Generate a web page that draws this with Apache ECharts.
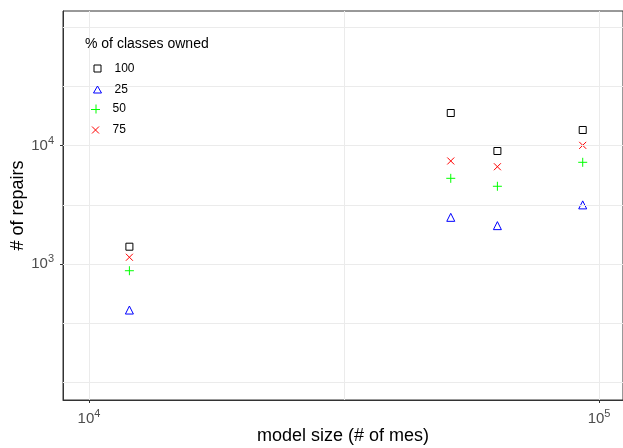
<!DOCTYPE html>
<html>
<head>
<meta charset="utf-8">
<script src="https://cdn.jsdelivr.net/npm/echarts@6/dist/echarts.min.js"></script>
<style>html,body{margin:0;padding:0;background:#fff}#c{width:623px;height:448px}</style>
</head>
<body>
<div id="c"></div>
<script>
const categories = ['100', '25', '50', '75'];
const modelSize = [12000, 51200, 63200, 92900];
const repairs100 = [1400, 18900, 9020, 13580];
const repairs25 = [408, 2480, 2110, 3160];
const repairs50 = [877, 5300, 4540, 7240];
const repairs75 = [1140, 7430, 6640, 10070];
const xTickExps = [4, 5];
const yTickExps = [3, 4];
const xGridExps = [4, 4.5, 5];
const yGridExps = [2, 2.5, 3, 3.5, 4, 4.5, 5];

const seriesValues = [repairs100, repairs25, repairs50, repairs75];
const colors = ['#000000', '#0000ff', '#00ff00', '#ff0000'];
const fills = ['none', 'none', '#00ff00', '#ff0000'];
const symbols = ['rect', 'triangle', 'path://M0,5L10,5M5,0L5,10', 'path://M0,0L10,10M10,0L0,10'];
const sizes = [7, 8, 9, 7];
const legendIcons = [
  'path://M0,0M10,10M1.5,1.5L8.5,1.5L8.5,8.5L1.5,8.5Z',
  'path://M0,0M10,10M1,8.5L5,1.5L9,8.5Z',
  'path://M0,0M10,10M0.5,5.5L9.5,5.5M5.5,0.5L5.5,9.5',
  'path://M0,0M10,10M1.5,1.5L8.5,8.5M8.5,1.5L1.5,8.5'
];
const legendTops = [56, 77, 98, 119];

const chart = echarts.init(document.getElementById('c'));
const lg = Math.log10;
const supFmt = v => '{b|10}{s|' + Math.round(v) + '}';
const rich = {
  b: { fontSize: 15, color: '#4d4d4d', fontFamily: 'Liberation Sans' },
  s: { fontSize: 11, color: '#4d4d4d', fontFamily: 'Liberation Sans', verticalAlign: 'top', padding: [0, 0, 10, 0] }
};

const scatterSeries = categories.map((c, i) => ({
  name: c,
  type: 'scatter',
  z: 3,
  symbol: symbols[i],
  symbolSize: sizes[i],
  itemStyle: { color: fills[i], borderColor: colors[i], borderWidth: 1, opacity: 1 },
  data: modelSize.map((x, j) => [lg(x), lg(seriesValues[i][j])])
}));

const gridSeries = {
  type: 'scatter',
  z: 1,
  silent: true,
  data: [],
  markLine: {
    silent: true,
    symbol: ['none', 'none'],
    label: { show: false },
    lineStyle: { color: '#ebebeb', width: 1, type: 'solid', opacity: 1 },
    data: xGridExps.map(v => ({ xAxis: v })).concat(yGridExps.map(v => ({ yAxis: v })))
  }
};

const legends = categories.map((c, i) => ({
  z: 10, orient: 'vertical', left: 85, top: legendTops[i], itemWidth: 10, itemHeight: 10,
  data: [{ name: c, icon: legendIcons[i], itemStyle: { color: fills[i], borderColor: colors[i], borderWidth: 1, opacity: 1 } }],
  itemStyle: { borderWidth: 1, opacity: 1 },
  textStyle: { fontSize: 12, color: '#000', fontFamily: 'Liberation Sans', padding: [0, 0, 0, 7] }
}));

chart.setOption({
  animation: false,
  backgroundColor: '#fff',
  grid: { left: 63, top: 11, right: 0, bottom: 48, outerBoundsMode: 'none', containLabel: false, show: true, borderColor: '#333333', borderWidth: 1 },
  title: {
    text: '% of classes owned', left: 80, top: 32, z: 10,
    textStyle: { fontSize: 14, fontWeight: 'normal', color: '#000', fontFamily: 'Liberation Sans' }
  },
  graphic: [{ type: 'rect', z: 5, shape: { x: 78, y: 27, width: 140, height: 120 }, style: { fill: '#fff' } }],
  legend: legends,
  xAxis: {
    type: 'value', min: 3.949, max: 5.047,
    name: 'model size (# of mes)', nameLocation: 'middle', nameGap: 27, nameMoveOverlap: false,
    nameTextStyle: { fontSize: 18, color: '#000', fontFamily: 'Liberation Sans' },
    axisLine: { show: true, lineStyle: { color: '#333333' } },
    axisTick: { show: true, customValues: xTickExps, length: 3, lineStyle: { color: '#333333' } },
    axisLabel: { customValues: xTickExps, formatter: supFmt, rich: rich, margin: 8 },
    splitLine: { show: false }
  },
  yAxis: {
    type: 'value', min: 1.85, max: 5.139,
    name: '# of repairs', nameLocation: 'middle', nameGap: 36, nameMoveOverlap: false,
    nameTextStyle: { fontSize: 18, color: '#000', fontFamily: 'Liberation Sans' },
    axisLine: { show: true, lineStyle: { color: '#333333' } },
    axisTick: { show: true, customValues: yTickExps, length: 3, lineStyle: { color: '#333333' } },
    axisLabel: { customValues: yTickExps, formatter: supFmt, rich: rich, margin: 9 },
    splitLine: { show: false }
  },
  series: [gridSeries].concat(scatterSeries)
});
</script>
</body>
</html>
